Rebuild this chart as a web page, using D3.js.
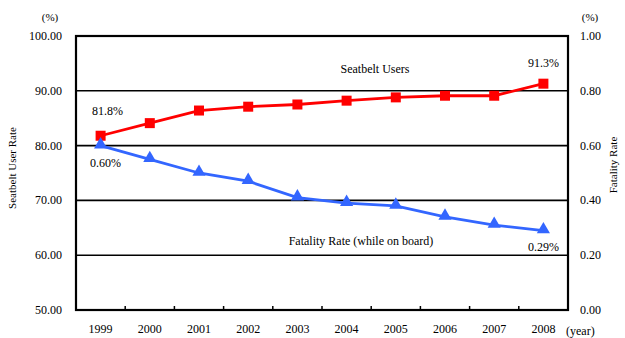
<!DOCTYPE html>
<html>
<head>
<meta charset="utf-8">
<script src="https://cdn.jsdelivr.net/npm/d3@7"></script>
<style>
  html, body { margin: 0; padding: 0; background: #fff; }
  svg { display: block; }
</style>
</head>
<body>
<svg id="chart" width="625" height="338" font-family="'Liberation Serif', 'Times New Roman', Times, 'DejaVu Serif', serif"></svg>
<script>
// Seatbelt use vs. fatality rate of occupants, 1999–2008
const years = ["1999", "2000", "2001", "2002", "2003", "2004", "2005", "2006", "2007", "2008"];
const seatbeltRate = [81.8, 84.1, 86.4, 87.1, 87.5, 88.2, 88.8, 89.1, 89.1, 91.3];
const fatalityRate = [0.60, 0.55, 0.50, 0.47, 0.41, 0.39, 0.38, 0.34, 0.31, 0.29];
const leftTicks = [50, 60, 70, 80, 90, 100];
const rightTicks = [0, 0.2, 0.4, 0.6, 0.8, 1.0];

const svg = d3.select("#chart");
const m = { left: 76, right: 568, top: 36, bottom: 310 };

const x = d3.scaleBand().domain(years).range([m.left, m.right]);
const yL = d3.scaleLinear().domain([50, 100]).range([m.bottom, m.top]);
const yR = d3.scaleLinear().domain([0, 1]).range([m.bottom, m.top]);
const cx = d => x(d) + x.bandwidth() / 2;

// horizontal gridlines
svg.append("g").selectAll("line")
  .data(leftTicks.filter(t => t > 50 && t < 100))
  .join("line")
  .attr("x1", m.left).attr("x2", m.right)
  .attr("y1", d => yL(d)).attr("y2", d => yL(d))
  .attr("stroke", "#000").attr("stroke-width", 1.6);

// left axis labels
svg.append("g").selectAll("text")
  .data(leftTicks).join("text")
  .attr("x", 62).attr("y", d => yL(d) + 4)
  .attr("text-anchor", "end").attr("font-size", 12)
  .text(d => d3.format(".2f")(d));

// right axis labels
svg.append("g").selectAll("text")
  .data(rightTicks).join("text")
  .attr("x", 580).attr("y", d => yR(d) + 4)
  .attr("text-anchor", "start").attr("font-size", 12)
  .text(d => d3.format(".2f")(d));

// category tick marks along the bottom edge (inward)
const bounds = years.slice(1).map(d => x(d));
svg.append("g").selectAll("line")
  .data(bounds).join("line")
  .attr("x1", d => d).attr("x2", d => d)
  .attr("y1", m.bottom).attr("y2", m.bottom - 4)
  .attr("stroke", "#000").attr("stroke-width", 1.5);

// year labels
svg.append("g").selectAll("text")
  .data(years).join("text")
  .attr("x", d => cx(d)).attr("y", 333)
  .attr("text-anchor", "middle").attr("font-size", 12)
  .text(d => d);
svg.append("text").attr("x", 566).attr("y", 335).attr("font-size", 12).text("(year)");

// plot frame
svg.append("rect")
  .attr("x", m.left).attr("y", m.top)
  .attr("width", m.right - m.left).attr("height", m.bottom - m.top)
  .attr("fill", "none").attr("stroke", "#000").attr("stroke-width", 2.2);

// units and axis titles
svg.append("text").attr("x", 50).attr("y", 21).attr("text-anchor", "middle").attr("font-size", 11).text("(%)");
svg.append("text").attr("x", 590).attr("y", 21).attr("text-anchor", "middle").attr("font-size", 11).text("(%)");
svg.append("text").attr("transform", "translate(16,168) rotate(-90)")
  .attr("text-anchor", "middle").attr("font-size", 11).text("Seatbelt User Rate");
svg.append("text").attr("transform", "translate(617,165) rotate(-90)")
  .attr("text-anchor", "middle").attr("font-size", 11).text("Fatality Rate");

// seatbelt line
const red = "#ff0000", blue = "#3366ff";
svg.append("path")
  .datum(seatbeltRate)
  .attr("fill", "none").attr("stroke", red).attr("stroke-width", 2.8)
  .attr("d", d3.line().x((d, i) => cx(years[i])).y(d => yL(d)));
svg.append("g").selectAll("rect")
  .data(seatbeltRate).join("rect")
  .attr("x", (d, i) => cx(years[i]) - 5).attr("y", d => yL(d) - 5)
  .attr("width", 10).attr("height", 10).attr("fill", red);

// fatality line
svg.append("path")
  .datum(fatalityRate)
  .attr("fill", "none").attr("stroke", blue).attr("stroke-width", 2.8)
  .attr("d", d3.line().x((d, i) => cx(years[i])).y(d => yR(d)));
const tri = d3.symbol().type(d3.symbolTriangle).size(75);
svg.append("g").selectAll("path")
  .data(fatalityRate).join("path")
  .attr("transform", (d, i) => `translate(${cx(years[i])},${yR(d) - 1})`)
  .attr("d", tri).attr("fill", blue);

// annotations
const fmt1 = d3.format(".1f"), fmt2 = d3.format(".2f");
const ann = (tx, ty, s) => svg.append("text").attr("x", tx).attr("y", ty)
  .attr("text-anchor", "middle").attr("font-size", 12).text(s);
ann(375, 73, "Seatbelt Users");
ann(cx(years[0]) + 7, yL(seatbeltRate[0]) - 21, fmt1(seatbeltRate[0]) + "%");
ann(cx(years[9]), yL(seatbeltRate[9]) - 17, fmt1(seatbeltRate[9]) + "%");
ann(cx(years[0]) + 5, yR(fatalityRate[0]) + 21, fmt2(fatalityRate[0]) + "%");
ann(361, 245, "Fatality Rate (while on board)");
ann(cx(years[9]), yR(fatalityRate[9]) + 20, fmt2(fatalityRate[9]) + "%");
</script>
</body>
</html>
